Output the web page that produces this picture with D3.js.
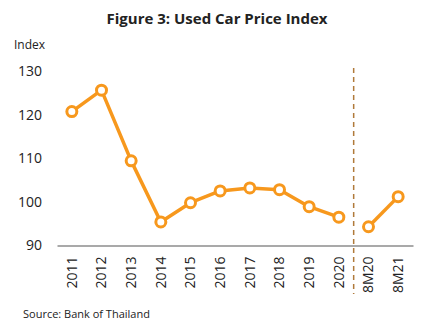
<!DOCTYPE html>
<html>
<head>
<meta charset="utf-8">
<script src="https://cdn.jsdelivr.net/npm/d3@7"></script>
<style>
  body { margin: 0; background: #fff; }
  text { font-family: "Open Sans", "Noto Sans", sans-serif; fill: #222; }
</style>
</head>
<body>
<script>
// Data
const categories = ["2011", "2012", "2013", "2014", "2015", "2016", "2017", "2018", "2019", "2020", "8M20", "8M21"];
const values = [120.7, 125.6, 109.4, 95.4, 99.8, 102.5, 103.2, 102.8, 98.9, 96.5, 94.3, 101.2];
const yTicks = [90, 100, 110, 120, 130];
const breakAfter = "2020";

const width = 435;
const height = 330;
const margin = { top: 71, right: 22, bottom: 85, left: 57 };

const svg = d3.select("body")
    .append("svg")
    .attr("width", width)
    .attr("height", height);

// Scales
const x = d3.scaleBand()
    .domain(categories)
    .range([margin.left, width - margin.right])
    .padding(0);

const y = d3.scaleLinear()
    .domain([90, 130])
    .range([height - margin.bottom + 0.5, margin.top]);

// Title
svg.append("text")
    .attr("x", 217)
    .attr("y", 24)
    .attr("text-anchor", "middle")
    .style("font-size", "15px")
    .style("font-weight", "bold")
    .text("Figure 3: Used Car Price Index");

svg.append("text")
    .attr("x", 14)
    .attr("y", 49)
    .style("font-size", "12px")
    .text("Index");

// Y axis labels (no line)
svg.append("g")
    .selectAll("text")
    .data(yTicks)
    .enter().append("text")
    .attr("x", 42)
    .attr("y", d => y(d))
    .attr("dy", "0.35em")
    .attr("text-anchor", "end")
    .style("font-size", "14px")
    .text(d => d);

// X axis
const xAxis = svg.append("g")
    .attr("transform", `translate(0,${y(90)})`)
    .call(d3.axisBottom(x).tickSize(0).tickSizeOuter(0));
xAxis.select(".domain").attr("stroke", "#8c8c8c").attr("stroke-width", 1.5);
xAxis.selectAll("text")
    .attr("transform", "rotate(-90)")
    .attr("text-anchor", "end")
    .attr("x", -11)
    .attr("y", 0)
    .attr("dy", "0.35em")
    .style("font-size", "14px")
    .style("font-family", "\"Open Sans\", sans-serif")
    .attr("fill", "#222");

// Dashed divider
const bx = x(breakAfter) + x.bandwidth();
svg.append("line")
    .attr("x1", bx).attr("x2", bx)
    .attr("y1", 68).attr("y2", 294)
    .attr("stroke", "#B07A3A")
    .attr("stroke-width", 1.5)
    .attr("stroke-dasharray", "5,4");

// Line (broken between annual and 8M data)
const pts = categories.map((c, i) => ({ c, v: values[i] }));
const breakIdx = categories.indexOf(breakAfter);
const segs = [pts.slice(0, breakIdx + 1), pts.slice(breakIdx + 1)];
const cx = d => x(d.c) + x.bandwidth() / 2;
const line = d3.line().x(cx).y(d => y(d.v));

svg.selectAll(".seg")
    .data(segs)
    .enter().append("path")
    .attr("class", "seg")
    .attr("d", line)
    .attr("fill", "none")
    .attr("stroke", "#F7981D")
    .attr("stroke-width", 3.5)
    .attr("stroke-linejoin", "round");

svg.selectAll(".dot")
    .data(pts)
    .enter().append("circle")
    .attr("class", "dot")
    .attr("cx", cx)
    .attr("cy", d => y(d.v))
    .attr("r", 5)
    .attr("fill", "#fff")
    .attr("stroke", "#F7981D")
    .attr("stroke-width", 3);

// Source
svg.append("text")
    .attr("x", 23)
    .attr("y", 318)
    .style("font-size", "11px")
    .text("Source: Bank of Thailand");
</script>
</body>
</html>
